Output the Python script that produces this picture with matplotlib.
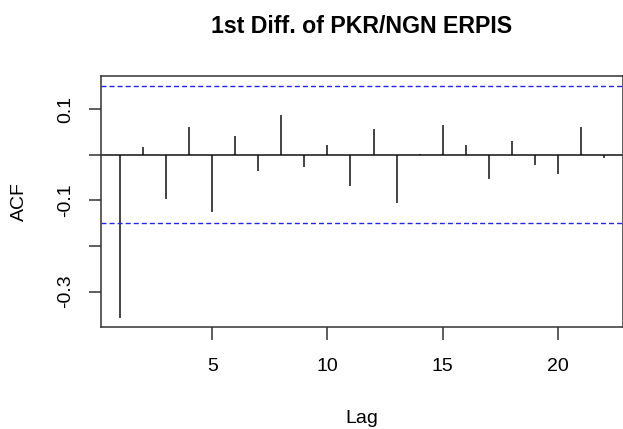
import numpy as np
import matplotlib
matplotlib.use("Agg")
import matplotlib.pyplot as plt

plt.rcParams['font.family'] = ['Liberation Sans', 'DejaVu Sans']

# ACF of the first difference, lags 1..22
lags = np.arange(1, 23)
acf_vals = [-0.358, 0.016, -0.098, 0.060, -0.125, 0.042, -0.036, 0.087,
            -0.028, 0.022, -0.069, 0.057, -0.107, 0.001, 0.066, 0.022,
            -0.054, 0.031, -0.022, -0.042, 0.060, -0.007]
conf = 0.1505
yticks = [0.1, 0.0, -0.1, -0.2, -0.3]
yticklabels = ['0.1', '', '-0.1', '', '-0.3']
xticks = [5, 10, 15, 20]

fig = plt.figure(figsize=(6.23, 4.29), dpi=100)
ax = fig.add_axes([101 / 623, 1 - 327.3 / 429, 522 / 623, (327.3 - 76) / 429])

ax.vlines(lags, 0, acf_vals, color='#111111', linewidth=1.1)
ax.axhline(0, color='#111111', linewidth=1.1)
ax.axhline(conf, color='#2222ff', linestyle=(0, (3.6, 2.2)), linewidth=1.0)
ax.axhline(-conf, color='#2222ff', linestyle=(0, (3.6, 2.2)), linewidth=1.0)

ax.set_xlim(0.16, 22.84)
ax.set_ylim(-0.3785, 0.1726)
ax.set_xticks(xticks)
ax.set_yticks(yticks)
ax.set_yticklabels(yticklabels, rotation=90, va='center')
ax.tick_params(axis='both', direction='out', length=9, width=1.1,
               labelsize=14, color='#333333')
ax.tick_params(axis='x', pad=13)
ax.tick_params(axis='y', pad=10)
for s in ax.spines.values():
    s.set_linewidth(1.1)
    s.set_color('#333333')

fig.text(362 / 623, 1 - 33.3 / 429, '1st Diff. of PKR/NGN ERPIS',
         ha='center', va='baseline', fontsize=16.7, fontweight='bold')
fig.text(362 / 623, 1 - 423 / 429, 'Lag', ha='center', va='baseline', fontsize=14)
fig.text(19 / 623, 1 - 202 / 429, 'ACF', ha='center', va='center',
         rotation=90, fontsize=14)

fig.savefig('out.png', dpi=100)
